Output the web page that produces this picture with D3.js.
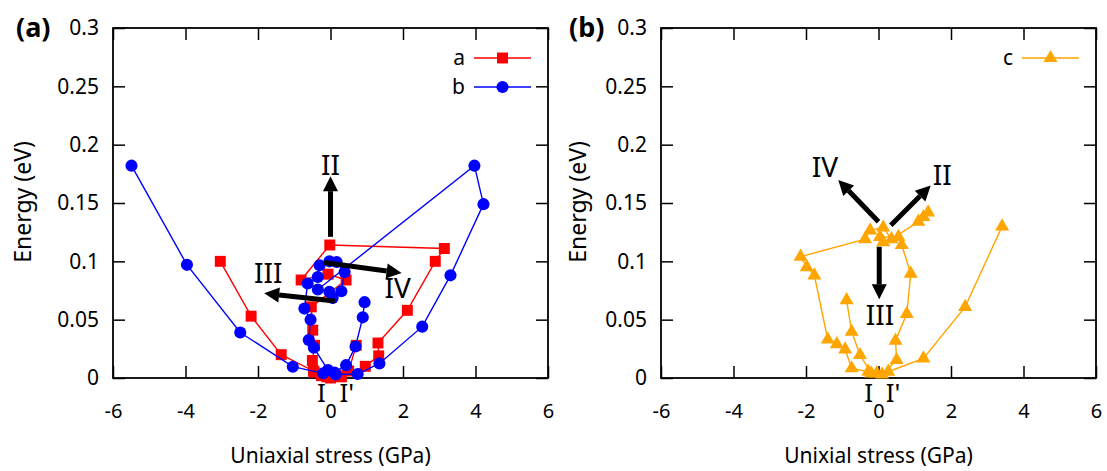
<!DOCTYPE html>
<html>
<head>
<meta charset="utf-8">
<script src="https://cdn.jsdelivr.net/npm/d3@7"></script>
<style>
  body { margin: 0; background: #fff; }
  text { font-family: "Noto Sans", sans-serif; }
</style>
</head>
<body>
<svg width="1107" height="471"></svg>
<script>
// series a (red squares), panel (a)
const aStress = [-3.04, -2.19, -1.36, -0.47, -0.25, 0.0, 0.3, 0.96, 1.33, 1.31, 2.12, 2.89, 3.14, -0.02, -0.81, -0.07, 0.43, -0.53, -0.49, -0.44, -0.5, -0.45, -0.1, 0.2, 0.5, 0.71];
const aEnergy = [0.100, 0.053, 0.020, 0.006, 0.002, 0.000, 0.001, 0.010, 0.019, 0.030, 0.058, 0.100, 0.111, 0.114, 0.084, 0.089, 0.084, 0.061, 0.041, 0.028, 0.015, 0.005, 0.001, 0.002, 0.006, 0.028];

// series b (blue circles), panel (a)
const bStress = [-5.49, -3.96, -2.49, -1.04, -0.2, 0.14, 0.75, 1.35, 2.53, 3.31, 4.22, 3.97, -0.35, -0.03, 0.06, 0.30, 0.39, 0.17, -0.03, -0.30, -0.35, -0.63, -0.72, -0.55, -0.60, -0.46, -0.07, 0.11, 0.43, 0.69, 0.89, 0.94];
const bEnergy = [0.182, 0.097, 0.039, 0.0097, 0.004, 0.003, 0.0034, 0.0125, 0.044, 0.088, 0.149, 0.182, 0.0758, 0.0738, 0.0687, 0.0744, 0.0909, 0.0994, 0.100, 0.0966, 0.0866, 0.081, 0.0595, 0.050, 0.0325, 0.026, 0.0068, 0.0046, 0.011, 0.027, 0.052, 0.065];

// series c (orange triangles), panel (b) - null splits the two branches
const cStress = [1.37, 1.24, 1.10, 0.36, 0.13, -0.23, -0.37, -2.15, -1.98, -1.77, -1.40, -1.15, -0.92, -0.74, -0.28, -0.05, 0.27, 1.24, 2.39, 3.41,
  null,
  -0.88, -0.74, -0.51, -0.2, 0.1, 0.50, 0.47, 0.78, 0.89, 0.64, 0.55, 0.04, 0.13];
const cEnergy = [0.142, 0.138, 0.134, 0.119, 0.129, 0.1265, 0.119, 0.104, 0.095, 0.088, 0.033, 0.029, 0.0245, 0.0083, 0.0054, 0.004, 0.0054, 0.0168, 0.061, 0.130,
  null,
  0.0667, 0.0396, 0.0197, 0.004, 0.003, 0.0154, 0.032, 0.055, 0.0895, 0.114, 0.121, 0.1208, 0.1165];

const xTicks = [-6, -4, -2, 0, 2, 4, 6];
const yTicks = [0, 0.05, 0.1, 0.15, 0.2, 0.25, 0.3];

// arrows: [x0, y0, x1, y1] in data units, and label positions
const arrowsA = [[0, 0.121, 0, 0.173], [-0.18, 0.099, 1.96, 0.090], [0.12, 0.066, -1.83, 0.0726]];
const labelsA = [["II", 0, 0.182], ["IV", 1.85, 0.077], ["III", -1.72, 0.090]];
const arrowsB = [[0, 0.134, -1.11, 0.1697], [0.34, 0.131, 1.44, 0.165], [0.02, 0.1125, 0.02, 0.0674]];
const labelsB = [["IV", -1.48, 0.181], ["II", 1.76, 0.174], ["III", 0.04, 0.054]];

const svg = d3.select("svg");

function zip(xs, ys) {
  return xs.map((x, i) => ({x: x, y: ys[i]}));
}

function drawPanel(opt) {
  const x = d3.scaleLinear().domain([-6, 6]).range([opt.left, opt.right]);
  const y = d3.scaleLinear().domain([0, 0.3]).range([378, 28]);
  const g = svg.append("g");

  // ticks on all four sides, pointing inward
  const tl = 12;
  g.append("g").attr("transform", `translate(0,${y(0)})`)
    .call(d3.axisBottom(x).tickValues(xTicks).tickSize(-tl).tickPadding(26).tickFormat(d => String(d)))
    .call(s => s.select(".domain").remove())
    .call(s => s.selectAll(".tick text").attr("font-size", 20));
  g.append("g").attr("transform", `translate(0,${y(0.3)})`)
    .call(d3.axisTop(x).tickValues(xTicks).tickSize(-tl).tickFormat(""))
    .call(s => s.select(".domain").remove());
  g.append("g").attr("transform", `translate(${x(-6)},0)`)
    .call(d3.axisLeft(y).tickValues(yTicks).tickSize(-tl).tickPadding(14).tickFormat(d => String(d)))
    .call(s => s.select(".domain").remove())
    .call(s => s.selectAll(".tick text").attr("font-size", 21));
  g.append("g").attr("transform", `translate(${x(6)},0)`)
    .call(d3.axisRight(y).tickValues(yTicks).tickSize(-tl).tickFormat(""))
    .call(s => s.select(".domain").remove());
  g.selectAll(".tick line").attr("stroke", "#000").attr("stroke-width", 1.5);
  g.selectAll(".tick text").attr("fill", "#000").attr("font-family", "Noto Sans");

  g.append("rect").attr("x", x(-6)).attr("y", y(0.3))
    .attr("width", x(6) - x(-6)).attr("height", y(0) - y(0.3))
    .attr("fill", "none").attr("stroke", "#000").attr("stroke-width", 1.8);

  // series
  opt.series.forEach(s => {
    const pts = zip(s.xs, s.ys);
    const line = d3.line().defined(d => d.x !== null).x(d => x(d.x)).y(d => y(d.y));
    g.append("path").attr("d", line(pts)).attr("fill", "none")
      .attr("stroke", s.color).attr("stroke-width", 1.4);
    const sym = d3.symbol().type(s.symbol).size(s.size);
    g.selectAll(null).data(pts.filter(d => d.x !== null)).enter().append("path")
      .attr("d", sym).attr("fill", s.color)
      .attr("transform", d => `translate(${x(d.x)},${y(d.y)})`);
  });

  // arrows
  opt.arrows.forEach(a => {
    const x0 = x(a[0]), y0 = y(a[1]), x1 = x(a[2]), y1 = y(a[3]);
    const ang = Math.atan2(y1 - y0, x1 - x0);
    const hl = 15, hw = 7.5;
    const bx = x1 - hl * Math.cos(ang), by = y1 - hl * Math.sin(ang);
    g.append("line").attr("x1", x0).attr("y1", y0).attr("x2", bx).attr("y2", by)
      .attr("stroke", "#000").attr("stroke-width", 5);
    const px = -Math.sin(ang) * hw, py = Math.cos(ang) * hw;
    g.append("path").attr("d", `M${x1},${y1}L${bx + px},${by + py}L${bx - px},${by - py}Z`).attr("fill", "#000");
  });
  opt.labels.forEach(l => {
    g.append("text").attr("x", x(l[1])).attr("y", y(l[2])).attr("dy", "0.35em")
      .attr("text-anchor", "middle").attr("font-family", "Liberation Serif")
      .attr("font-size", 28).text(l[0]);
  });
  opt.minima.forEach(m => {
    g.append("text").attr("x", x(m[1])).attr("y", y(0) + 24)
      .attr("text-anchor", "middle").attr("font-family", "Liberation Serif")
      .attr("font-size", 26).text(m[0]);
  });

  // legend
  opt.series.forEach((s, i) => {
    const ly = 58 + i * 29;
    const lx0 = x(6) - 74, lx1 = x(6) - 17;
    g.append("line").attr("x1", lx0).attr("x2", lx1).attr("y1", ly).attr("y2", ly)
      .attr("stroke", s.color).attr("stroke-width", 1.4);
    g.append("path").attr("d", d3.symbol().type(s.symbol).size(s.size))
      .attr("fill", s.color).attr("transform", `translate(${(lx0 + lx1) / 2},${ly})`);
    g.append("text").attr("x", lx0 - 9).attr("y", ly + 7)
      .attr("text-anchor", "end").attr("font-size", 21).text(s.name);
  });

  // axis titles and panel tag
  g.append("text").attr("x", (x(-6) + x(6)) / 2).attr("y", 463)
    .attr("text-anchor", "middle").attr("font-size", 21).text(opt.xTitle);
  g.append("text").attr("transform", `translate(${opt.yTitleX},202) rotate(-90)`)
    .attr("text-anchor", "middle").attr("font-size", 23).text("Energy (eV)");
  g.append("text").attr("x", opt.tagX).attr("y", 37)
    .attr("font-size", 27).attr("font-weight", "bold").attr("font-family", "Liberation Sans").text(opt.tag);
}

drawPanel({
  left: 113, right: 548, tag: "(a)", tagX: 16, yTitleX: 31, xTitle: "Uniaxial stress (GPa)",
  series: [
    {name: "a", xs: aStress, ys: aEnergy, color: "#ff0000", symbol: d3.symbolSquare, size: 120},
    {name: "b", xs: bStress, ys: bEnergy, color: "#0000ff", symbol: d3.symbolCircle, size: 115}
  ],
  arrows: arrowsA, labels: labelsA,
  minima: [["I", -0.25], ["I'", 0.45]]
});

drawPanel({
  left: 661, right: 1096, tag: "(b)", tagX: 569, yTitleX: 586, xTitle: "Unixial stress (GPa)",
  series: [
    {name: "c", xs: cStress, ys: cEnergy, color: "#ffa500", symbol: d3.symbolTriangle, size: 85}
  ],
  arrows: arrowsB, labels: labelsB,
  minima: [["I", -0.27], ["I'", 0.4]]
});
</script>
</body>
</html>
